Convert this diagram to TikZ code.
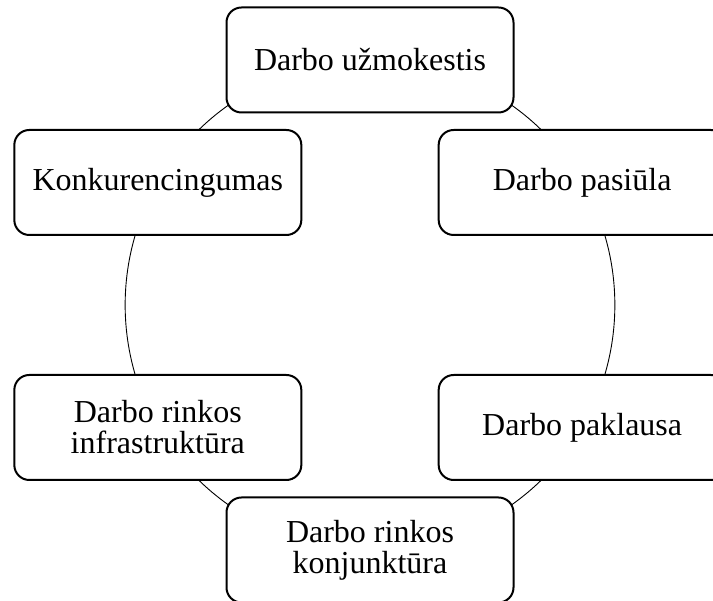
\documentclass[tikz,border=0pt]{standalone}
\usepackage{fontspec}
\setmainfont{Liberation Serif}
\usetikzlibrary{backgrounds,calc}
\tikzset{
  box/.style={draw=black, line width=2pt, rounded corners=15pt, fill=white,
    minimum width=287pt, minimum height=105pt, inner sep=0pt, align=center,
    font=\fontsize{32}{31}\selectfont},
  ring/.style={draw=black, line width=0.9pt, bend right=30, looseness=0.912}
}
\begin{document}
\begin{tikzpicture}[x=1pt,y=1pt]
\useasboundingbox (0,0) rectangle (713,601);
\coordinate (c) at (370,296);
\node[box] (top) at ($(c)+(90:245)$) {Darbo užmokestis};
\node[box] (lt) at ($(c)+(150:245)$) {Konkurencingumas};
\node[box] (lb) at ($(c)+(210:245)$) {Darbo rinkos\\infrastruktūra};
\node[box] (bot) at ($(c)+(270:245)$) {Darbo rinkos\\konjunktūra};
\node[box] (rb) at ($(c)+(330:245)$) {Darbo paklausa};
\node[box] (rt) at ($(c)+(30:245)$) {Darbo pasiūla};
\begin{pgfonlayer}{background}
\draw[ring] (top.center) to (lt.center);
\draw[ring] (lt.center) to (lb.center);
\draw[ring] (lb.center) to (bot.center);
\draw[ring] (bot.center) to (rb.center);
\draw[ring] (rb.center) to (rt.center);
\draw[ring] (rt.center) to (top.center);
\end{pgfonlayer}
\end{tikzpicture}
\end{document}
